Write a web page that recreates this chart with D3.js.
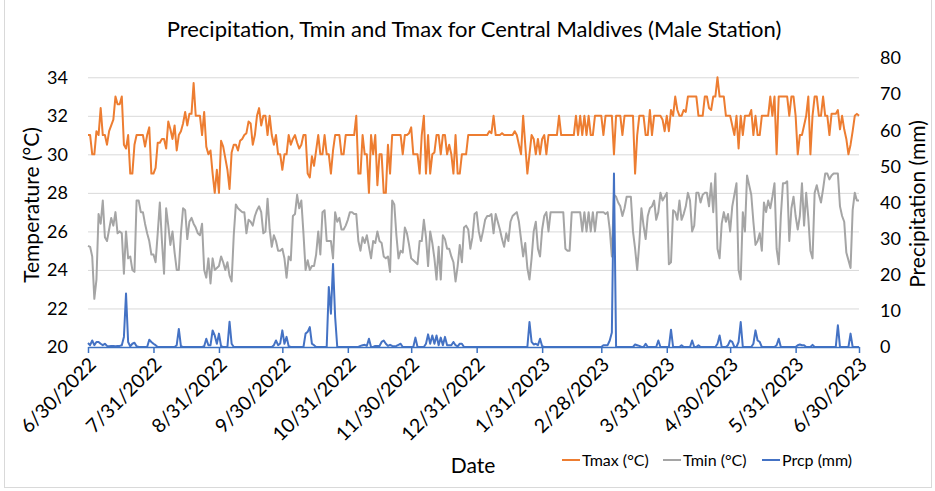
<!DOCTYPE html>
<meta charset="utf-8">
<script src="https://d3js.org/d3.v7.min.js"></script>
<style>
  body { margin: 0; background: #fff; }
  text { font-family: Lato, "Open Sans", sans-serif; fill: #000; }
</style>
<svg id="chart" width="935" height="491"></svg>
<script>
// daily values, 6/30/2022 .. 6/30/2023 (366 days)
const tmax = [
  31, 31, 30, 30, 31.2, 31, 32.4, 31, 31, 30.5,
  31.2, 31.5, 31.8, 33, 32.6, 32.6, 33, 30.5, 30.3, 31,
  29, 29, 30.5, 31, 31, 31, 31, 30.4, 31, 31.4,
  29, 29, 29.3, 30.6, 30.6, 30.8, 30.8, 30.3, 31.7, 31.3,
  30.8, 31.5, 30.2, 31, 31.2, 31.6, 32.2, 31.5, 32.1, 32.1,
  33.7, 32, 32, 32, 31, 32.2, 30.4, 30, 30.2, 29,
  28, 29.2, 28, 30.7, 30.4, 29.8, 29.2, 28.2, 30.1, 30.5,
  30.5, 30.2, 30.7, 30.8, 31, 31.1, 31.7, 31.6, 30.5, 31,
  32, 32.4, 31.5, 32, 32, 31, 32, 31, 30.5, 31,
  30, 30, 29.2, 30, 30, 31, 30.5, 30.8, 31, 30.6,
  30.3, 30.5, 31, 31, 29, 28.8, 29.9, 29.4, 30.2, 31,
  30, 30, 31, 30, 30, 29, 30.2, 31, 31, 31,
  30, 30, 31, 31, 31, 31, 31, 32, 29, 29,
  31, 30, 30, 28, 31, 30, 31, 28.4, 30, 30,
  28, 28, 30.5, 29, 31, 31, 31, 31, 31, 30,
  31, 31, 31.1, 31.4, 30, 30, 30, 29, 31, 32,
  29, 31, 29, 30, 30.1, 31, 31, 30, 31, 31,
  30, 30.5, 30, 29, 31, 29, 29, 30, 30, 30,
  31, 31, 31, 31, 31, 31, 31, 31, 31, 31,
  31.2, 31.1, 32, 31, 31, 31, 31.1, 31, 31, 31,
  31, 31, 31.2, 31, 30.5, 30, 32, 30.5, 29, 30,
  31, 30.8, 30, 30.8, 30, 30.8, 31, 30, 31, 31,
  31, 31, 31, 32, 31, 31, 31, 31, 31, 31,
  31, 32, 31, 32, 31, 32, 31, 32, 31, 31,
  32, 32, 32, 32, 31, 32, 32, 32, 32, 30,
  32, 32, 32, 31, 32, 32, 32, 32, 32, 29,
  31, 32, 32, 32, 31, 31, 32.3, 31, 32, 32,
  32, 32, 31.8, 31.2, 32, 31.2, 32.3, 32, 33, 32.3,
  32, 32, 32.3, 32.2, 33, 33, 33, 33, 33, 32,
  32, 32, 33, 33, 32.4, 32.3, 33, 33, 34, 33,
  33, 33, 32, 32, 32, 31.5, 31, 32, 30.3, 32,
  31, 32, 32, 32, 32.3, 31, 32, 31, 31, 32,
  32, 32, 32, 33, 32, 33, 30, 33, 33, 33,
  33, 33, 32, 33, 33, 32, 30, 31, 31, 31.5,
  32, 33, 30, 32, 33, 33, 32, 32, 33, 32,
  32, 31, 32.1, 32.1, 32.1, 32.3, 31.3, 32, 31.3, 30.8,
  30, 30.5, 31.2, 32, 32.1, 32
];

const tmin = [
  25.25, 25.2, 24.7, 22.5, 23.5, 26.9, 26.4, 27.6, 25.7, 25.5,
  26.1, 26.7, 26.3, 27, 25.9, 26, 25.9, 23.8, 26, 24.6,
  24.7, 24, 23.9, 27.6, 27.6, 27, 27, 26.4, 25.9, 25.5,
  24.8, 24.8, 24.4, 25.9, 27.5, 25.5, 23.8, 27.2, 26.3, 25.3,
  26, 24.9, 24, 24, 25.9, 27.2, 27.1, 25.6, 26.5, 26.7,
  26.4, 26.2, 25.9, 25.8, 26.4, 24, 23.6, 24.6, 23.3, 24.6,
  24, 24.1, 24.2, 24.7, 24.4, 24, 24.4, 23.7, 23.4, 25.8,
  27.4, 27.2, 27.1, 27, 27, 25.9, 26.6, 26.5, 26.3, 26.8,
  27.1, 27.3, 27, 25.9, 26, 27.7, 26.1, 25.2, 25.8, 25.5,
  25, 25, 25.1, 24.6, 23.6, 24.7, 24.5, 26.8, 26.9, 27.9,
  27.2, 27.6, 25.9, 24, 24.5, 24, 24.2, 24.2, 24.8, 26,
  24.8, 27, 27.1, 25.5, 25.5, 25.5, 24.6, 27, 26.5, 26.7,
  26.1, 26.1, 26.3, 26.6, 27, 27, 26.9, 26.9, 25.5, 25,
  25.7, 25.4, 25.8, 25.2, 24.6, 25.5, 25.4, 26, 25.5, 25.4,
  24.7, 24.6, 24.7, 23.9, 27.6, 27.4, 25.8, 24.6, 25, 24.9,
  26.2, 25.9, 25.3, 24.6, 24.5, 24.4, 24.3, 25.5, 25.5, 26.6,
  25.7, 24.2, 26, 25.4, 24.6, 23.5, 25.2, 23.5, 25.8, 25.6,
  25.1, 25.1, 24.7, 24.4, 23.4, 24.2, 25.3, 24.4, 26.2, 26.3,
  26.1, 25.1, 25.7, 26.9, 27, 26, 25.5, 26, 26.6, 26.8,
  26.8, 26.9, 25.9, 26.9, 26.5, 26.1, 25.6, 25.2, 25.9, 25.5,
  26.5, 26.8, 26.9, 27, 26.5, 25.6, 24.7, 25.4, 24.1, 23.5,
  24.6, 26, 26.5, 25.1, 24.7, 26.1, 26.8, 27, 26, 27,
  27, 27, 27, 27, 27, 27, 25.1, 25, 25, 27,
  27, 27, 27, 27, 26, 27, 26, 27, 26, 27,
  26, 27, 27, 27, 27, 26.9, 27, 26.1, 24.7, 27.9,
  27.8, 27.5, 27.3, 26.8, 27.2, 27.8, 27.8, 27.8, 26, 25.1,
  24, 25.4, 27.2, 26.3, 25.6, 26.8, 27.2, 27.3, 27.6, 26.6,
  27, 28, 27.6, 27.8, 28, 24.3, 24.4, 27.1, 27, 26.6,
  27.6, 26.6, 26.9, 27.3, 28, 27.6, 26, 26.3, 28, 28,
  27.5, 27.9, 28, 28, 27.3, 28.5, 27, 29, 25.1, 24.6,
  26.4, 27, 26.5, 26.9, 26, 27.3, 27.9, 28.5, 24, 23.5,
  27, 26, 28.9, 28.4, 27.9, 26.5, 25.3, 25.5, 25.9, 25,
  27.5, 27, 27.6, 27.2, 27.8, 28.5, 25.1, 24.3, 26.8, 28.5,
  28.5, 28.6, 25.5, 27.2, 27.8, 26.8, 26.1, 26.8, 28.5, 26.3,
  28, 26.7, 25, 24.6, 28, 28.4, 27.9, 27.5, 28.2, 29,
  29, 28.7, 28.9, 29, 29, 29, 27.3, 26.8, 26.5, 24.9,
  24.5, 24.1, 27.1, 28, 27.6, 27.6
];

const prcp = [
  1.1, 0.5, 1.8, 0.5, 1.4, 1.4, 0.9, 0.5, 0.9, 0.3,
  0.2, 0.3, 0.3, 0.2, 0.3, 0.3, 0.5, 2.8, 14.8, 1.4,
  0.2, 0.9, 1.2, 0.2, 0, 0, 0, 0, 0, 2,
  1.4, 0.9, 0.5, 0, 0, 0, 0, 0, 0, 0,
  0, 0, 0.5, 5, 0.2, 0, 0, 0, 0, 0,
  0, 0, 0, 0, 0, 0.2, 2.3, 0.5, 0.5, 4.6,
  3.2, 0.9, 3.7, 0.2, 0, 0, 0, 7, 0.9, 0,
  0, 0, 0, 0, 0, 0, 0, 0, 0, 0,
  0, 0, 0, 0, 0, 0, 0, 0, 0.5, 1.8,
  0.5, 1, 4.6, 0.9, 2.8, 0.2, 0, 0, 0, 0,
  0, 0, 0, 3.7, 4.2, 5.5, 0.9, 0.5, 0, 0,
  0, 0, 0, 0, 16.6, 9.2, 23, 8.3, 0, 0,
  0, 0, 0, 0, 0, 0, 0, 0, 0, 0.3,
  0.5, 0.6, 0.3, 2.3, 0, 0, 0.3, 0.3, 0.3, 1.4,
  1.8, 0.9, 0.3, 0.6, 0.3, 0.2, 0.3, 0.6, 0.9, 0,
  0, 0, 0, 0, 0, 2.6, 0, 0, 0, 0,
  0.9, 3.5, 0.9, 3.2, 0.9, 3.2, 0.5, 2.6, 0.5, 2.8,
  0.5, 0.5, 0.5, 1.4, 0.5, 0.2, 0.9, 0.9, 0, 0,
  0, 0, 0, 0, 0, 0, 0, 0, 0, 0,
  0, 0, 0, 0, 0, 0, 0, 0, 0, 0,
  0, 0, 0, 0, 0, 0, 0, 0, 0, 6.9,
  1.4, 0.7, 0.9, 0.5, 2.3, 0.2, 0, 0, 0, 0,
  0, 0, 0, 0, 0, 0, 0, 0, 0, 0,
  0, 0, 0, 0, 0, 0, 0, 0, 0, 0,
  0, 0, 0, 0, 0.5, 0.5, 0.5, 1.8, 4, 48,
  0, 0, 0, 0, 0, 0, 0, 0, 0, 0.7,
  0.5, 0.3, 0, 0, 0.9, 0, 0, 0, 0, 0,
  1.8, 0, 0, 0, 0, 0, 4.8, 0, 0, 0,
  0, 0.5, 0, 0, 0, 0, 1.8, 0, 0, 0.5,
  0, 0, 0, 0, 0, 0, 0, 0, 0.9, 3.2,
  0, 0, 0, 0.5, 1.8, 1.4, 0, 0, 1.4, 6.9,
  0, 0, 0, 0, 0, 0.9, 4.6, 1.8, 1.4, 0,
  0, 0, 0, 0, 0, 0, 0.5, 2.3, 0, 0,
  0, 0, 0, 0, 0, 0, 0.5, 0.7, 0.5, 0.5,
  0, 0, 0, 0.6, 0, 0, 0, 0, 0, 0,
  0, 0, 0, 0, 0, 6, 0, 0, 0, 0,
  0, 3.7, 0, 0, 0, 0
];

const tempTicks = [20, 22, 24, 26, 28, 30, 32, 34];
const prcpTicks = [0, 10, 20, 30, 40, 50, 60, 70, 80];
const dateTicks = ["6/30/2022", "7/31/2022", "8/31/2022", "9/30/2022", "10/31/2022",
  "11/30/2022", "12/31/2022", "1/31/2023", "2/28/2023", "3/31/2023",
  "4/30/2023", "5/31/2023", "6/30/2023"];

const series = [
  { name: "Tmax (°C)", values: tmax, color: "#ED7D31", axis: "temp" },
  { name: "Tmin (°C)", values: tmin, color: "#A5A5A5", axis: "temp" },
  { name: "Prcp (mm)", values: prcp, color: "#4472C4", axis: "prcp" }
];

const svg = d3.select("#chart");
const plot = { left: 88, right: 859, top: 58, bottom: 347 };

const parse = d3.timeParse("%m/%d/%Y");
const start = parse(dateTicks[0]);
const dates = tmax.map((_, i) => d3.timeDay.offset(start, i));
const tickDates = dateTicks.map(parse);

const x = d3.scaleTime()
  .domain([start, parse(dateTicks[dateTicks.length - 1])])
  .range([plot.left, plot.right]);
const yT = d3.scaleLinear().domain([20, 35]).range([plot.bottom, plot.top]);
const yP = d3.scaleLinear().domain([0, 80]).range([plot.bottom, plot.top]);

// outer chart border
svg.append("rect")
  .attr("x", 4.5).attr("y", -1)
  .attr("width", 927).attr("height", 488.5)
  .attr("fill", "none").attr("stroke", "#D9D9D9");

// title
svg.append("text")
  .attr("x", 474).attr("y", 37)
  .attr("text-anchor", "middle")
  .style("font-size", "22px")
  .text("Precipitation, Tmin and Tmax for Central Maldives (Male Station)");

// gridlines
svg.append("g")
  .attr("transform", `translate(${plot.left},0)`)
  .call(d3.axisLeft(yT).tickValues(tempTicks.slice(1)).tickSize(-(plot.right - plot.left)).tickFormat(""))
  .call(g => g.select(".domain").remove())
  .call(g => g.selectAll("line").attr("stroke", "#D9D9D9"));

// left axis labels
svg.append("g")
  .attr("transform", `translate(${plot.left},0)`)
  .call(d3.axisLeft(yT).tickValues(tempTicks).tickSize(0).tickPadding(20))
  .call(g => g.select(".domain").remove())
  .call(g => g.selectAll("text").style("font-size", "18px").style("font-family", "Lato, sans-serif"));

// right axis labels
svg.append("g")
  .attr("transform", `translate(${plot.right},0)`)
  .call(d3.axisRight(yP).tickValues(prcpTicks).tickSize(0).tickPadding(21))
  .call(g => g.select(".domain").remove())
  .call(g => g.selectAll("text").style("font-size", "18px").style("font-family", "Lato, sans-serif"));

// series lines
series.forEach(s => {
  const y = s.axis === "temp" ? yT : yP;
  const line = d3.line()
    .x((d, i) => x(dates[i]))
    .y(d => y(d));
  svg.append("path")
    .datum(s.values)
    .attr("fill", "none")
    .attr("stroke", s.color)
    .attr("stroke-width", 2)
    .attr("stroke-linejoin", "round")
    .attr("d", line);
});

// x axis (blue, ticks down)
const xAxis = svg.append("g")
  .attr("transform", `translate(0,${plot.bottom})`)
  .call(d3.axisBottom(x).tickValues(tickDates).tickSize(6).tickSizeOuter(0)
    .tickFormat((d, i) => dateTicks[i]));
xAxis.select(".domain").attr("stroke", "#3C72C2").attr("stroke-width", 1.5);
xAxis.selectAll("line").attr("stroke", "#3C72C2").attr("stroke-width", 1.5);
xAxis.selectAll("text")
  .attr("text-anchor", "end")
  .attr("x", 0).attr("y", 0).attr("dy", "0.35em")
  .attr("transform", "translate(4,14) rotate(-45)")
  .style("font-size", "19.5px")
  .style("font-family", "Lato, sans-serif");

// axis titles
svg.append("text")
  .attr("transform", "translate(39,205) rotate(-90)")
  .attr("text-anchor", "middle")
  .style("font-size", "21px")
  .text("Temperature (°C)");

svg.append("text")
  .attr("transform", "translate(925,204) rotate(-90)")
  .attr("text-anchor", "middle")
  .style("font-size", "21px")
  .text("Precipitation (mm)");

svg.append("text")
  .attr("x", 473).attr("y", 473)
  .attr("text-anchor", "middle")
  .style("font-size", "21px")
  .text("Date");

// legend
const legendX = [562, 663, 762];
const legend = svg.append("g");
series.forEach((s, i) => {
  legend.append("line")
    .attr("x1", legendX[i]).attr("x2", legendX[i] + 18)
    .attr("y1", 460).attr("y2", 460)
    .attr("stroke", s.color).attr("stroke-width", 2);
  legend.append("text")
    .attr("x", legendX[i] + 20).attr("y", 465.5)
    .style("font-size", "16px")
    .text(s.name);
});
</script>
